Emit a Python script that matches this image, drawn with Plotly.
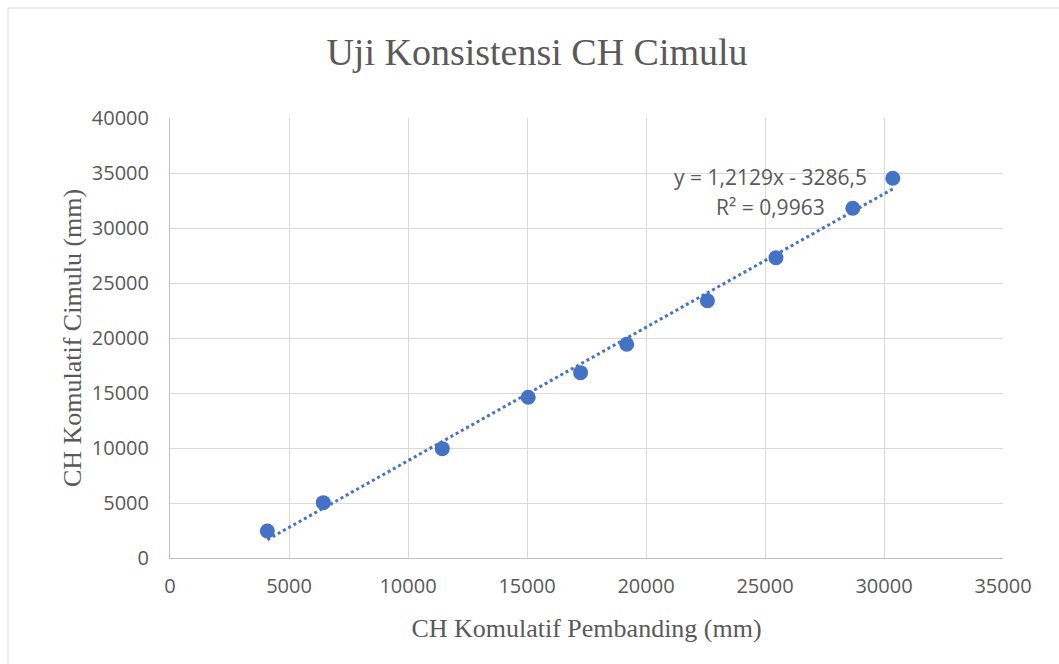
import plotly.graph_objects as go
import numpy as np

# Data
ch_pembanding = [4090, 6440, 11440, 15050, 17250, 19190, 22580, 25460, 28690, 30370]
ch_cimulu = [2455, 5030, 9940, 14610, 16850, 19430, 23390, 27300, 31790, 34520]

# Trendline coefficients shown on the chart
trend_slope = 1.2129
trend_intercept = -3286.5
trend_label = "y = 1,2129x - 3286,5"
r2_label = "R² = 0,9963"

title_text = "Uji Konsistensi CH Cimulu"
x_title = "CH Komulatif Pembanding (mm)"
y_title = "CH Komulatif Cimulu (mm)"

W, H = 1059, 664
L, R, T, B = 170, 56, 118, 106
pw, ph = W - L - R, H - T - B

def px_to_paper_x(px):
    return (px - L) / pw

def px_to_paper_y(py):
    return (H - B - py) / ph

blue = "#4472C4"
grey_txt = "#595959"

tx = np.array([min(ch_pembanding), max(ch_pembanding)])
ty = trend_slope * tx + trend_intercept

fig = go.Figure()
fig.add_trace(go.Scatter(
    x=tx, y=ty, mode="lines",
    line=dict(color=blue, width=3, dash="dot"),
    hoverinfo="skip", showlegend=False,
))
fig.add_trace(go.Scatter(
    x=ch_pembanding, y=ch_cimulu, mode="markers",
    marker=dict(color=blue, size=15),
    showlegend=False,
))

fig.update_layout(
    width=W, height=H,
    margin=dict(l=L, r=R, t=T, b=B),
    paper_bgcolor="white", plot_bgcolor="white",
    title=dict(text=title_text, x=(537) / W, xanchor="center",
               y=1 - 52 / H, yanchor="middle",
               font=dict(family="Liberation Serif", size=38, color=grey_txt)),
    xaxis=dict(
        range=[0, 35000], tickvals=list(range(0, 35001, 5000)), tickformat="d",
        showgrid=True, gridcolor="#d9d9d9", gridwidth=1,
        zeroline=False, showline=True, linecolor="#bfbfbf", linewidth=1,
        ticks="", ticklen=0, ticklabelstandoff=10,
        tickfont=dict(family="Open Sans", size=20, color=grey_txt),
        title=dict(text=x_title, standoff=20,
                   font=dict(family="Liberation Serif", size=26, color=grey_txt)),
    ),
    yaxis=dict(
        range=[0, 40000], tickvals=list(range(0, 40001, 5000)), tickformat="d",
        showgrid=True, gridcolor="#d9d9d9", gridwidth=1,
        zeroline=False, showline=True, linecolor="#bfbfbf", linewidth=1,
        ticks="", ticklen=0, ticklabelstandoff=16,
        tickfont=dict(family="Open Sans", size=20, color=grey_txt),
        title=dict(text=y_title, standoff=2,
                   font=dict(family="Liberation Serif", size=26, color=grey_txt)),
    ),
    annotations=[
        dict(text=trend_label, xref="paper", yref="paper",
             x=px_to_paper_x(770), y=px_to_paper_y(177),
             xanchor="center", yanchor="middle", showarrow=False,
             font=dict(family="Open Sans", size=21, color=grey_txt)),
        dict(text=r2_label, xref="paper", yref="paper",
             x=px_to_paper_x(770), y=px_to_paper_y(207),
             xanchor="center", yanchor="middle", showarrow=False,
             font=dict(family="Open Sans", size=21, color=grey_txt)),
    ],
    shapes=[
        dict(type="rect", xref="paper", yref="paper",
             x0=px_to_paper_x(8), x1=px_to_paper_x(W + 20),
             y0=px_to_paper_y(H + 20), y1=px_to_paper_y(8),
             line=dict(color="#d9d9d9", width=1), fillcolor="rgba(0,0,0,0)",
             layer="below"),
    ],
)

fig.write_html("out.html", config={"displayModeBar": False},
               post_script="document.body.style.margin='0';")
